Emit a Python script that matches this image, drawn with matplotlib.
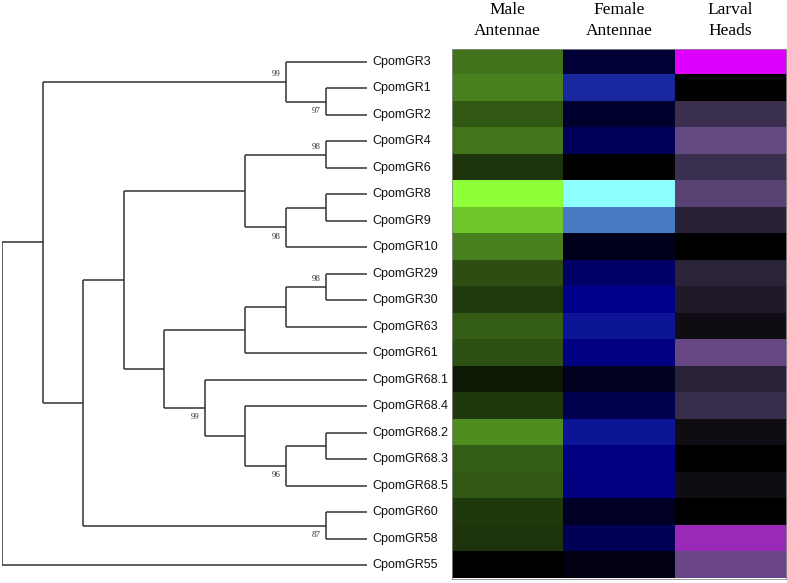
"""Gene tree of CpomGR receptors with tissue expression heatmap."""
import matplotlib

matplotlib.use("Agg")
import matplotlib.pyplot as plt  # noqa: E402
import numpy as np  # noqa: E402
from matplotlib.colors import LinearSegmentedColormap  # noqa: E402

W, H = 787, 583

# --- data ------------------------------------------------------------------
LEAVES = ["CpomGR3", "CpomGR1", "CpomGR2", "CpomGR4", "CpomGR6", "CpomGR8",
          "CpomGR9", "CpomGR10", "CpomGR29", "CpomGR30", "CpomGR63", "CpomGR61",
          "CpomGR68.1", "CpomGR68.4", "CpomGR68.2", "CpomGR68.3", "CpomGR68.5",
          "CpomGR60", "CpomGR58", "CpomGR55"]

# relative expression (0..1), in leaf order
MALE = [0.45, 0.50, 0.34, 0.46, 0.20, 1.00, 0.77, 0.50, 0.31, 0.23,
        0.37, 0.32, 0.10, 0.22, 0.55, 0.36, 0.35, 0.22, 0.20, 0.00]
FEMALE = [0.12, 0.45, 0.10, 0.19, 0.00, 1.00, 0.75, 0.06, 0.22, 0.30,
          0.38, 0.27, 0.07, 0.17, 0.38, 0.27, 0.27, 0.08, 0.18, 0.04]
LARVAL = [1.00, 0.00, 0.30, 0.50, 0.30, 0.45, 0.20, 0.00, 0.22, 0.16,
          0.08, 0.52, 0.21, 0.28, 0.08, 0.00, 0.08, 0.00, 0.75, 0.55]

TISSUES = ["Male\nAntennae", "Female\nAntennae", "Larval\nHeads"]

# cladogram: (node depth, bootstrap, label side, children); leaves are names
TREE = (0, None, None, [
    (1, None, None, [
        (7, 99, "above", ["CpomGR3", (8, 97, "below", ["CpomGR1", "CpomGR2"])]),
        (2, None, None, [
            (3, None, None, [
                (6, None, None, [
                    (8, 98, "above", ["CpomGR4", "CpomGR6"]),
                    (7, 98, "below", [(8, None, None, ["CpomGR8", "CpomGR9"]), "CpomGR10"]),
                ]),
                (4, None, None, [
                    (6, None, None, [
                        (7, None, None, [(8, 98, "above", ["CpomGR29", "CpomGR30"]), "CpomGR63"]),
                        "CpomGR61",
                    ]),
                    (5, 99, "below", [
                        "CpomGR68.1",
                        (6, None, None, [
                            "CpomGR68.4",
                            (7, 96, "below", [(8, None, None, ["CpomGR68.2", "CpomGR68.3"]),
                                              "CpomGR68.5"]),
                        ]),
                    ]),
                ]),
            ]),
            (8, 87, "below", ["CpomGR60", "CpomGR58"]),
        ]),
    ]),
    "CpomGR55",
])
LEAF_DEPTH = 9

CMAPS = [
    LinearSegmentedColormap.from_list("male", [(0, "#000000"), (1, "#8fff3a")]),
    LinearSegmentedColormap.from_list("female", [
        (0, "#000000"), (0.3, "#00008e"), (0.45, "#1a28a0"), (0.75, "#477bc3"), (1, "#8cffff")]),
    LinearSegmentedColormap.from_list("larval", [
        (0, "#000000"), (0.3, "#3c3050"), (0.5, "#634a80"), (0.55, "#6a4488"),
        (0.75, "#9a2ab8"), (1, "#de00ff")]),
]

# --- figure ----------------------------------------------------------------
fig = plt.figure(figsize=(W / 100, H / 100), dpi=100)
top, bottom = 48.5, 578.5
ax_hm = fig.add_axes([452 / W, (H - bottom) / H, 334 / W, (bottom - top) / H])
ax_tr = fig.add_axes([2 / W, (H - bottom) / H, 365 / W, (bottom - top) / H])

n = len(LEAVES)
for j, vals in enumerate([MALE, FEMALE, LARVAL]):
    ax_hm.imshow(np.array(vals)[:, None], cmap=CMAPS[j], vmin=0, vmax=1,
                 extent=(j, j + 1, n, 0), aspect="auto", interpolation="nearest")
    ax_hm.text(j + 0.5, -1.05, TISSUES[j], ha="center", va="center",
               family="Liberation Serif", fontsize=12.5, linespacing=1.45)
ax_hm.set_xlim(0, 3)
ax_hm.set_ylim(n, 0)
ax_hm.set_xticks([])
ax_hm.set_yticks([])
for sp in ax_hm.spines.values():
    sp.set_color("#8a8a8a")
    sp.set_linewidth(0.6)

LINE = dict(color="#333333", lw=1.1, solid_capstyle="butt")
order = []


def draw(node):
    if isinstance(node, str):
        order.append(node)
        return LEAF_DEPTH, len(order) - 0.5
    depth, support, side, kids = node
    pos = [draw(k) for k in kids]
    ys = [p[1] for p in pos]
    for cx, cy in pos:
        ax_tr.plot([depth, cx], [cy, cy], **LINE)
    ax_tr.plot([depth, depth], [min(ys), max(ys)], **LINE)
    y = (min(ys) + max(ys)) / 2
    if support is not None:
        dy = -0.3 if side == "above" else 0.36
        ax_tr.text(depth - 0.14, y + dy, str(support), ha="right", va="center",
                   family="Liberation Serif", fontsize=6.5, color="#333333")
    return depth, y


draw(TREE)
assert order == LEAVES

for i, name in enumerate(LEAVES):
    ax_tr.text(LEAF_DEPTH + 0.13, i + 0.5, name, ha="left", va="center",
               family="Liberation Sans", fontsize=9, color="#111111")

ax_tr.set_xlim(0, LEAF_DEPTH)
ax_tr.set_ylim(n, 0)
ax_tr.axis("off")

fig.savefig("out.png", dpi=100)
